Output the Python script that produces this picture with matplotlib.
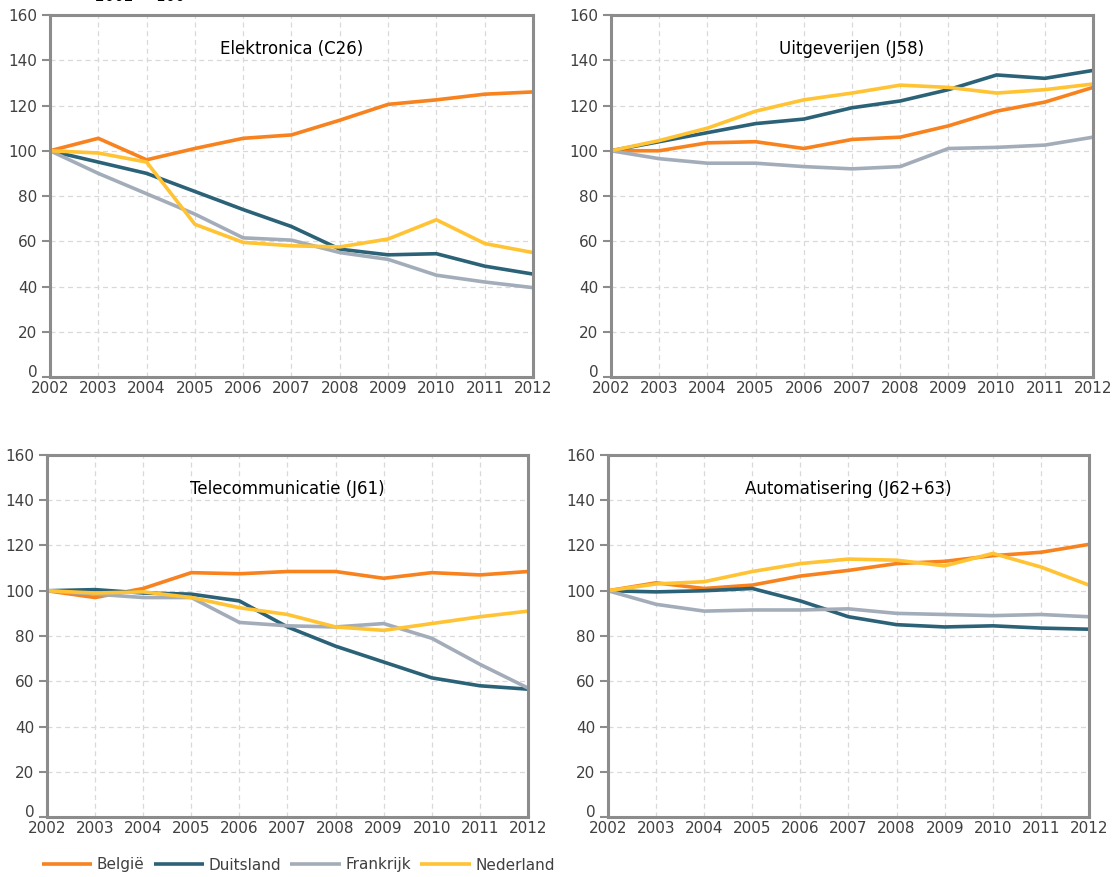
import numpy as np
import matplotlib
matplotlib.use("Agg")
import matplotlib.pyplot as plt

# years on the x axis
years = list(range(2002, 2013))

# series names and colours
landen = ["België", "Duitsland", "Frankrijk", "Nederland"]
kleuren = ["#F7821E", "#2B6277", "#A3ADB9", "#FFC333"]

# Elektronica (C26)
elek_be = [100, 105.5, 96, 101, 105.5, 107, 113.5, 120.5, 122.5, 125, 126]
elek_de = [100, 95, 90, 82, 74, 66.5, 56.5, 54, 54.5, 49, 45.5]
elek_fr = [100, 90, 81, 72, 61.5, 60.5, 55, 52, 45, 42, 39.5]
elek_nl = [100, 99, 95, 67.5, 59.5, 58, 57.5, 61, 69.5, 59, 55]

# Uitgeverijen (J58)
uitg_be = [100, 100, 103.5, 104, 101, 105, 106, 111, 117.5, 121.5, 128]
uitg_de = [100, 104, 108, 112, 114, 119, 122, 127, 133.5, 132, 135.5]
uitg_fr = [100, 96.5, 94.5, 94.5, 93, 92, 93, 101, 101.5, 102.5, 106]
uitg_nl = [100, 104.5, 110, 117.5, 122.5, 125.5, 129, 128, 125.5, 127, 129.5]

# Telecommunicatie (J61)
tele_be = [100, 97, 101, 108, 107.5, 108.5, 108.5, 105.5, 108, 107, 108.5]
tele_de = [100, 100.5, 99, 98.5, 95.5, 84, 75.5, 68.5, 61.5, 58, 56.5]
tele_fr = [100, 98.5, 97, 97, 86, 84.5, 84, 85.5, 79, 67.5, 57]
tele_nl = [100, 99, 99.5, 97, 92.5, 89.5, 84, 82.5, 85.5, 88.5, 91]

# Automatisering (J62+63)
auto_be = [100, 103.5, 101, 102.5, 106.5, 109, 112, 113, 115.5, 117, 120.5]
auto_de = [100, 99.5, 100, 101, 95.5, 88.5, 85, 84, 84.5, 83.5, 83]
auto_fr = [100, 94, 91, 91.5, 91.5, 92, 90, 89.5, 89, 89.5, 88.5]
auto_nl = [100, 103, 104, 108.5, 112, 114, 113.5, 111, 116.5, 110.5, 102.5]

titels = ["Elektronica (C26)", "Uitgeverijen (J58)",
          "Telecommunicatie (J61)", "Automatisering (J62+63)"]
panelen = [
    [elek_be, elek_de, elek_fr, elek_nl],
    [uitg_be, uitg_de, uitg_fr, uitg_nl],
    [tele_be, tele_de, tele_fr, tele_nl],
    [auto_be, auto_de, auto_fr, auto_nl],
]

# axes positions (left, bottom, width, height) in figure fraction
posities = [
    [0.0448, 0.5701, 0.4328, 0.4128],
    [0.5475, 0.5701, 0.4319, 0.4128],
    [0.0421, 0.0684, 0.4310, 0.4128],
    [0.5448, 0.0684, 0.4310, 0.4128],
]

plt.rcParams['font.family'] = ['DejaVu Sans']

fig = plt.figure(figsize=(11.16, 8.77), dpi=100)

spine_kleur = "#8C8C8C"
tekst_kleur = "#404040"

for i in range(4):
    ax = fig.add_axes(posities[i])
    for reeks, naam, kleur in zip(panelen[i], landen, kleuren):
        ax.plot(years, reeks, color=kleur, linewidth=2.6, label=naam,
                solid_capstyle="butt")
    ax.set_xlim(2002, 2012)
    ax.set_ylim(0, 160)
    ax.set_xticks(years)
    ax.set_yticks(range(0, 161, 20))
    ax.grid(True, linestyle=(0, (4, 3)), color="#D9D9D9", linewidth=0.9)
    ax.set_axisbelow(True)
    for s in ax.spines.values():
        s.set_color(spine_kleur)
        s.set_linewidth(2.2)
    ax.tick_params(axis="y", length=6, width=1.5, color=spine_kleur,
                   labelsize=11, labelcolor=tekst_kleur, pad=3)
    ax.tick_params(axis="x", length=0, labelsize=11, labelcolor=tekst_kleur,
                   pad=3)
    # lift the "0" label a little, as in the original
    ax.get_yticklabels()[0].set_va("baseline")
    ax.text(0.5, 0.905, titels[i], transform=ax.transAxes, ha="center",
            va="center", fontsize=12, color="black")

fig.text(95 / 1116, 1 - 4 / 877, "2002 = 100", fontsize=11, color="black",
         ha="left", va="bottom")

handles = fig.axes[0].get_lines()
fig.legend(handles, landen, loc="center left", ncol=4,
           bbox_to_anchor=(0.025, 1 - 865 / 877), frameon=False,
           fontsize=11, handlelength=3.3, handletextpad=0.3,
           columnspacing=0.6, labelcolor=tekst_kleur)

plt.savefig("out.png", dpi=100)
